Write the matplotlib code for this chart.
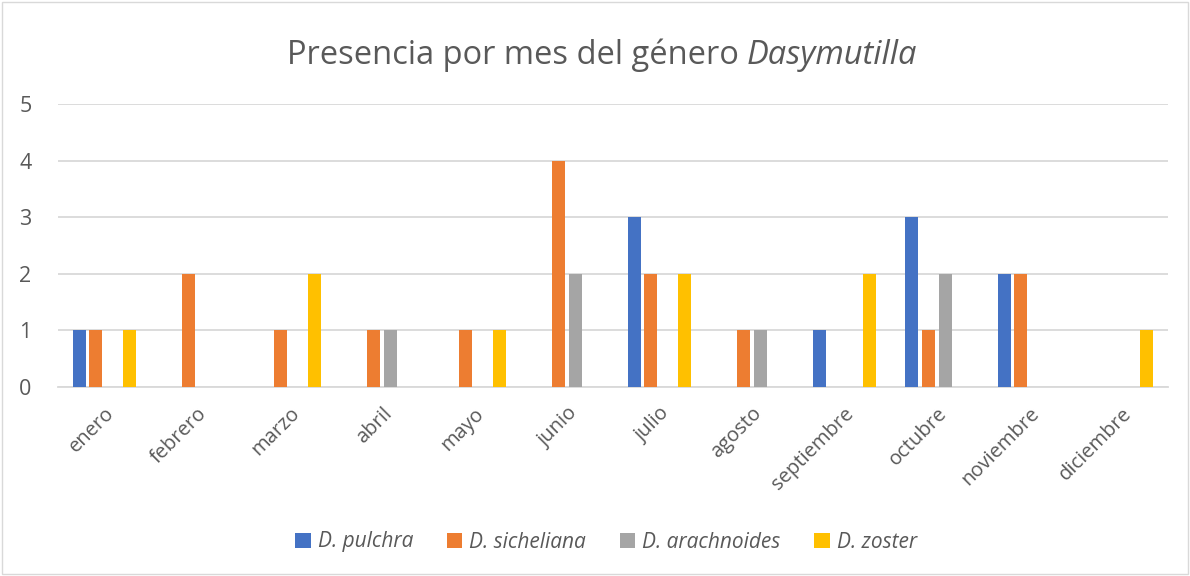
import matplotlib
matplotlib.use("Agg")
import matplotlib.pyplot as plt
import numpy as np

months = ["enero", "febrero", "marzo", "abril", "mayo", "junio", "julio",
          "agosto", "septiembre", "octubre", "noviembre", "diciembre"]
series_names = ["D. pulchra", "D. sicheliana", "D. arachnoides", "D. zoster"]
pulchra = [1, 0, 0, 0, 0, 0, 3, 0, 1, 3, 2, 0]
sicheliana = [1, 2, 1, 1, 1, 4, 2, 1, 0, 1, 2, 0]
arachnoides = [0, 0, 0, 1, 0, 2, 0, 1, 0, 2, 0, 0]
zoster = [1, 0, 2, 0, 1, 0, 2, 0, 2, 0, 0, 1]
colors = ["#4472C4", "#ED7D31", "#A5A5A5", "#FFC000"]
yticks = [0, 1, 2, 3, 4, 5]

plt.rcParams['font.family'] = ['Open Sans', 'DejaVu Sans']
txt = "#595959"

fig = plt.figure(figsize=(11.9, 5.76), dpi=100)
ax = fig.add_axes([58/1190, 1-387/576, (1168-58)/1190, (387-104)/576])

x = np.arange(len(months))
width = 0.14
step = 0.18
data = [pulchra, sicheliana, arachnoides, zoster]
for i, (vals, name, c) in enumerate(zip(data, series_names, colors)):
    ax.bar(x + (i - 1.5) * step, vals, width, color=c, label=name, zorder=3)

ax.set_xlim(-0.5, len(months) - 0.5)
ax.set_ylim(0, 5)
ax.set_yticks(yticks)
ax.set_yticklabels([str(v) for v in yticks], fontsize=15.5, color=txt)
ax.yaxis.grid(True, color="#D9D9D9", linewidth=1.3, zorder=0)
ax.set_xticks(x)
ax.set_xticklabels(months, rotation=45, ha="right", rotation_mode="anchor",
                   fontsize=14.5, color=txt)
ax.tick_params(axis="y", length=0, pad=19)
ax.tick_params(axis="x", length=0, pad=12)
for s in ["top", "right", "left"]:
    ax.spines[s].set_visible(False)
ax.spines["bottom"].set_color("#D9D9D9")
ax.spines["bottom"].set_linewidth(1.3)

# Title with italic genus name
fig.canvas.draw()
r = fig.canvas.get_renderer()
t1 = fig.text(0, 0, "Presencia por mes del género ", fontsize=23.5, color=txt)
t2 = fig.text(0, 0, "Dasymutilla", fontsize=23.5, color=txt, style="italic")
w1 = t1.get_window_extent(r).width
w2 = t2.get_window_extent(r).width
total = w1 + w2
x0 = (602 - total / 2) / 1190
yt = 1 - 64 / 576
t1.set_position((x0, yt))
t2.set_position((x0 + w1 / 1190, yt))

leg = fig.legend(loc="center", bbox_to_anchor=(606/1190, 1 - 542/576), ncol=4,
                 frameon=False, prop={"style": "italic", "size": 15},
                 handlelength=0.75, handleheight=0.75, handletextpad=0.35,
                 columnspacing=1.6)
for t in leg.get_texts():
    t.set_color(txt)

fig.patches.append(plt.Rectangle((2/1190, 2/576), 1186/1190, 572/576,
                                 transform=fig.transFigure, fill=False,
                                 edgecolor="#D9D9D9", linewidth=1))

fig.savefig("out.png", dpi=100)
